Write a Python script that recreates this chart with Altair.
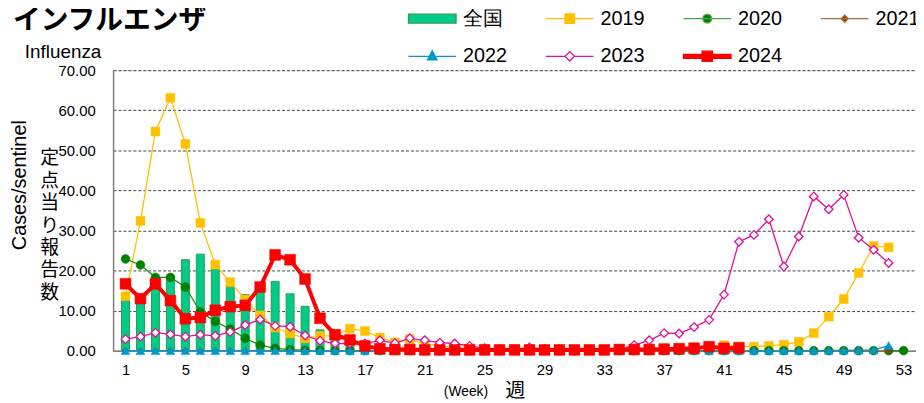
import altair as alt
import pandas as pd

# ---------------- data ----------------
series_names = ["全国", "2019", "2020", "2021", "2022", "2023", "2024"]

weeks52 = list(range(1, 53))
weeks53 = list(range(1, 54))
weeks42 = list(range(1, 43))

zenkoku = [13.0, 12.5, 18.0, 18.5, 22.7, 24.1, 21.0, 16.1, 14.0, 15.5,
           17.3, 14.2, 11.1, 5.2, 3.5, 2.5, 1.5, 0.8, 0.5, 0.4,
           0.3, 0.3, 0.2, 0.2, 0.2, 0.2, 0.2, 0.2, 0.2, 0.2,
           0.2, 0.2, 0.2, 0.2, 0.3, 0.3, 0.4, 0.5, 0.6, 0.8,
           0.7, 0.7]

y2019 = [13.6, 32.4, 54.7, 63.1, 51.6, 31.9, 21.5, 17.1, 12.8, 8.8,
         5.8, 4.3, 3.1, 3.7, 3.7, 5.5, 4.9, 3.3, 2.1, 2.9,
         1.7, 1.2, 0.8, 0.6, 0.5, 0.4, 0.4, 0.4, 0.3, 0.3,
         0.3, 0.3, 0.3, 0.3, 0.4, 0.5, 0.6, 0.7, 0.9, 1.0,
         1.4, 1.1, 1.0, 1.2, 1.5, 2.2, 4.4, 8.5, 12.9, 19.4,
         26.1, 25.8]

y2020 = [22.9, 21.4, 18.3, 18.3, 15.9, 9.7, 7.3, 5.4, 3.1, 1.4,
         0.6, 0.25, 0.1, 0.05, 0.03, 0.02, 0.02, 0.01, 0.01, 0.01,
         0.01, 0.01, 0.01, 0.01, 0.01, 0.01, 0.01, 0.01, 0.01, 0.01,
         0.01, 0.01, 0.01, 0.01, 0.01, 0.01, 0.01, 0.01, 0.01, 0.01,
         0.01, 0.01, 0.01, 0.01, 0.01, 0.01, 0.01, 0.01, 0.01, 0.01,
         0.01, 0.01, 0.01]

y2021 = [0.01, 0.01, 0.01, 0.01, 0.01, 0.01, 0.01, 0.01, 0.01, 0.01,
         0.01, 0.01, 0.01, 0.01, 0.01, 0.01, 0.01, 0.01, 0.01, 0.01,
         0.01, 0.01, 0.01, 0.01, 0.01, 0.01, 0.01, 0.01, 0.01, 0.01,
         0.01, 0.01, 0.01, 0.01, 0.01, 0.01, 0.01, 0.01, 0.01, 0.01,
         0.01, 0.01, 0.01, 0.01, 0.01, 0.01, 0.01, 0.01, 0.01, 0.01,
         0.01, 0.01]

y2022 = [0.01, 0.01, 0.01, 0.01, 0.01, 0.01, 0.01, 0.01, 0.01, 0.01,
         0.01, 0.01, 0.01, 0.01, 0.01, 0.01, 0.01, 0.01, 0.01, 0.01,
         0.01, 0.01, 0.01, 0.01, 0.01, 0.01, 0.01, 0.01, 0.01, 0.01,
         0.01, 0.01, 0.01, 0.01, 0.01, 0.01, 0.01, 0.01, 0.01, 0.01,
         0.01, 0.02, 0.02, 0.02, 0.03, 0.04, 0.05, 0.07, 0.1, 0.14,
         0.2, 1.3]

y2023 = [2.9, 3.5, 4.5, 4.1, 3.5, 4.0, 3.7, 4.7, 6.4, 7.8,
         6.2, 6.0, 3.8, 2.5, 1.8, 1.8, 1.8, 2.6, 1.9, 3.1,
         2.6, 2.0, 1.8, 1.2, 0.6, 0.4, 0.3, 0.8, 0.4, 0.4,
         0.2, 0.2, 0.2, 0.3, 1.4, 2.6, 4.4, 4.3, 5.9, 7.7,
         14.0, 27.2, 28.9, 32.8, 21.0, 28.5, 38.5, 35.3, 38.9, 28.2,
         25.2, 21.9]

y2024 = [16.7, 13.0, 16.7, 12.5, 8.0, 8.3, 10.1, 11.0, 11.3, 15.9,
         23.9, 22.7, 17.9, 8.1, 4.0, 2.7, 1.2, 0.5, 0.3, 0.3,
         0.2, 0.2, 0.2, 0.2, 0.2, 0.2, 0.2, 0.2, 0.2, 0.2,
         0.2, 0.2, 0.2, 0.3, 0.3, 0.3, 0.4, 0.5, 0.6, 1.0,
         0.6, 0.7]

y_ticks = [0, 10, 20, 30, 40, 50, 60, 70]
x_ticks = list(range(1, 54, 2))

# ---------------- styles ----------------
FONT = "Liberation Sans"
JFONT = "Noto Sans CJK JP"
BAR_FILL = "#00CC88"
BAR_STROKE = "#2E9B4E"

line_styles = {
    "2019": dict(line="#FFC000", mk="#FFC000", fill="#FFC000", shape="square", size=80, lw=1.3),
    "2020": dict(line="#1E8C1E", mk="#008000", fill="#008000", shape="circle", size=80, lw=1.3),
    "2021": dict(line="#A86B3C", mk="#8B4513", fill="#8B4513", shape="diamond", size=45, lw=1.3),
    "2022": dict(line="#0099CC", mk="#0099CC", fill="#0099CC", shape="triangle-up", size=80, lw=1.3),
    "2023": dict(line="#E0109C", mk="#E0109C", fill="#FFFFFF", shape="diamond", size=75, lw=1.3),
    "2024": dict(line="#FF0000", mk="#FF0000", fill="#FF0000", shape="square", size=120, lw=4),
}

series_data = {
    "2019": (weeks52, y2019),
    "2020": (weeks53, y2020),
    "2021": (weeks52, y2021),
    "2022": (weeks52, y2022),
    "2023": (weeks52, y2023),
    "2024": (weeks42, y2024),
}

xscale = alt.Scale(domain=[0.5, 53.5], nice=False, zero=False)
yscale = alt.Scale(domain=[0, 70], nice=False)

x_enc = alt.X("week:Q", scale=xscale, title=None,
              axis=alt.Axis(values=x_ticks, format="d", labelFontSize=15, labelColor="#000",
                            labelFont=FONT, ticks=False, grid=False, labelPadding=12,
                            domainColor="#808080", domainWidth=1.5, labelFlush=False,
                            labelOverlap=False))
y_enc = alt.Y("value:Q", scale=yscale, title=None,
              axis=alt.Axis(values=y_ticks, format=".2f", labelFontSize=15, labelColor="#000",
                            labelFont=FONT, ticks=False, grid=True, gridColor="#444",
                            gridDash=[3, 2], gridWidth=1, labelPadding=18,
                            domainColor="#808080", domainWidth=1.5))

# bars
bar_df = pd.DataFrame({"week": weeks42, "value": zenkoku})
bars = alt.Chart(bar_df).mark_bar(size=8, fill=BAR_FILL, stroke=BAR_STROKE, strokeWidth=1).encode(
    x=x_enc, y=y_enc)

layers = [bars]
for s in ["2019", "2020", "2021", "2022", "2023", "2024"]:
    wk, vals = series_data[s]
    st = line_styles[s]
    df = pd.DataFrame({"week": wk, "value": vals})
    base = alt.Chart(df)
    ln = base.mark_line(color=st["line"], strokeWidth=st["lw"]).encode(x="week:Q", y="value:Q")
    pt = base.mark_point(shape=st["shape"], size=st["size"], filled=True, fill=st["fill"],
                         stroke=st["mk"], strokeWidth=1.3 if s == "2023" else 0.5,
                         opacity=1).encode(x="week:Q", y="value:Q")
    layers += [ln, pt]

# legend (native Vega-Lite legend with custom symbols)
leg_paths = [
    "M-5,-0.56H1V0.56H-5Z",
    "M-5,0H1M-2.6,-0.6H-1.4V0.6H-2.6Z",
    "M-5,0H1M-1.45,0A0.55,0.55,0,1,1,-2.55,0A0.55,0.55,0,1,1,-1.45,0Z",
    "M-5,0H1M-2,-0.45L-1.55,0L-2,0.45L-2.45,0Z",
    "M-5,0H1M-2,-0.7L-1.4,0.45H-2.6Z",
    "M-5,0H-2.6M-1.4,0H1M-2,-0.6L-1.4,0L-2,0.6L-2.6,0Z",
    "M-5,-0.25H1V0.25H-5ZM-2.65,-0.65H-1.35V0.65H-2.65Z",
]
leg_fill = [BAR_FILL, "#FFC000", "#008000", "#8B4513", "#0099CC", "#FFFFFF", "#FF0000"]
leg_stroke = [BAR_STROKE, "#FFC000", "#4CA64C", "#A86B3C", "#0099CC", "#E0109C", "#FF0000"]

legend_df = pd.DataFrame({"series": series_names})


def leg():
    return alt.Legend(orient="none", legendX=328, legendY=-62, columns=4, direction="horizontal",
                      title=None, labelFontSize=20, labelFont=FONT, labelColor="#000",
                      symbolSize=256, symbolStrokeWidth=1.3, symbolOpacity=1, labelOffset=5,
                      columnPadding=35.7, rowPadding=18, padding=0, labelLimit=0)


legend_layer = alt.Chart(legend_df).mark_point(filled=True, opacity=0, size=1).encode(
    x=alt.value(0), y=alt.value(0),
    shape=alt.Shape("series:N", scale=alt.Scale(domain=series_names, range=leg_paths), legend=leg()),
    fill=alt.Fill("series:N", scale=alt.Scale(domain=series_names, range=leg_fill), legend=leg()),
    stroke=alt.Stroke("series:N", scale=alt.Scale(domain=series_names, range=leg_stroke), legend=leg()),
)
layers.append(legend_layer)

# free texts
one = alt.Data(values=[{"a": 1}])


def txt(t, x, y, size, font=FONT, weight="normal", angle=0, baseline="middle", align="left", lh=None):
    kw = dict(text=t, fontSize=size, font=font, fontWeight=weight, color="#000",
              baseline=baseline, align=align, angle=angle)
    if lh is not None:
        kw["lineHeight"] = lh
        kw["lineBreak"] = "\n"
    return alt.Chart(one).mark_text(**kw).encode(x=alt.value(x), y=alt.value(y))


layers += [
    txt("インフルエンザ", -101, -50, 28, font=JFONT, weight="bold"),
    txt("Influenza", -89, -18, 19),
    txt("Cases/sentinel", -94, 116, 20, angle=270, align="center"),
    txt("定\n点\n当\nり\n報\n告\n数", -64, 80, 19, font=JFONT, align="center",
        baseline="top", lh=22.6),
    txt("(Week)", 356, 325, 14, align="center"),
    txt("週", 406, 324, 20, font=JFONT, align="center"),
]

chart = alt.layer(*layers).properties(
    width=810, height=283,
    autosize=alt.AutoSizeParams(type="none"),
    padding={"left": 106, "top": 61, "right": 0, "bottom": 52},
).configure_view(stroke=None).configure(background="white")

chart.save("out.html", embed_options={"renderer": "svg", "actions": False})
